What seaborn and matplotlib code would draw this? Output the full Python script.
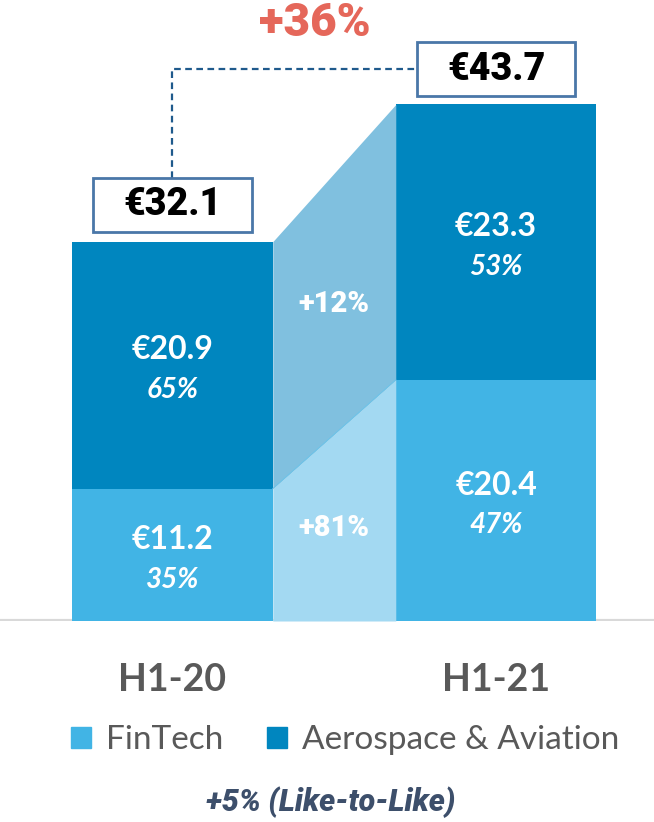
import numpy as np
import pandas as pd
import seaborn as sns
import matplotlib.pyplot as plt
from matplotlib.patches import Patch, Rectangle

sns.set_style('white')
plt.rcParams['font.family'] = ['Lato', 'DejaVu Sans']

# data
periods = ['H1-20', 'H1-21']
fintech = [11.2, 20.4]
aero = [20.9, 23.3]
totals = [32.1, 43.7]
fintech_share = ['35%', '47%']
aero_share = ['65%', '53%']
growth_labels = ['+81%', '+12%']   # fintech, aerospace
total_growth = '+36%'
footnote = '+5% (Like-to-Like)'

c_fin = '#41B4E5'
c_aero = '#0086BF'
c_fin_link = '#A3D9F2'
c_aero_link = '#80C0DF'
heavy = ['Roboto', 'DejaVu Sans']

df = pd.DataFrame({'period': periods, 'fintech': fintech, 'aero': aero, 'total': totals})

fig = plt.figure(figsize=(6.54, 8.22), dpi=100)
ax = fig.add_axes([0, 201 / 822, 1, 621 / 822])

bw = 0.62
# stacked bars: total first (aerospace colour), fintech on top of it
sns.barplot(data=df, x='period', y='total', color=c_aero, width=bw, saturation=1, ax=ax)
sns.barplot(data=df, x='period', y='fintech', color=c_fin, width=bw, saturation=1, ax=ax)
for p in ax.patches:
    p.set_edgecolor('none')

ax.set_xlim(-0.533, 1.488)
ax.set_ylim(0, 52.54)
for s in ax.spines.values():
    s.set_visible(False)
ax.set_yticks([])
ax.set_xlabel('')
ax.set_ylabel('')
ax.axhline(0, color='#D9D9D9', lw=3, zorder=0.5)

# connecting bands between the bars
xl = 0 + bw / 2
xr = 1 - bw / 2
ax.fill_between([xl, xr], [0, 0], fintech, color=c_fin_link, lw=0, zorder=1)
ax.fill_between([xl, xr], fintech, totals, color=c_aero_link, lw=0, zorder=1)
ax.plot([xl, xr], fintech, color='#6EC3E8', lw=0.8, zorder=1.1)

xm = (xl + xr) / 2
ax.text(xm, np.mean(fintech) / 2, growth_labels[0], color='white', fontsize=21,
        family=heavy, fontweight='black', ha='center', va='center')
ax.text(xm, (np.mean(fintech) + np.mean(totals)) / 2, growth_labels[1], color='white',
        fontsize=21, family=heavy, fontweight='black', ha='center', va='center')

# segment labels
for i in range(2):
    ym = fintech[i] / 2
    ax.text(i, ym + 1.3, '€%.1f' % fintech[i], color='white', fontsize=23,
            fontweight='bold', ha='center', va='center')
    ax.text(i, ym - 2.1, fintech_share[i], color='white', fontsize=20,
            fontweight='bold', style='italic', ha='center', va='center')
    ym = fintech[i] + aero[i] / 2
    ax.text(i, ym + 1.3, '€%.1f' % aero[i], color='white', fontsize=23,
            fontweight='bold', ha='center', va='center')
    ax.text(i, ym - 2.1, aero_share[i], color='white', fontsize=20,
            fontweight='bold', style='italic', ha='center', va='center')

# total boxes
offs = [3.1, 3.0]
box_w, box_h = 0.49, 4.5
for i in range(2):
    yc = totals[i] + offs[i]
    ax.add_patch(Rectangle((i - box_w / 2, yc - box_h / 2), box_w, box_h, fc='white',
                           ec='#4A77A8', lw=2, zorder=3))
    ax.text(i, yc, '€%.1f' % totals[i], color='black', fontsize=27, family=heavy,
            fontweight='black', ha='center', va='center', zorder=4)

# dashed connector
y_top = totals[1] + offs[1]
ax.plot([0, 0, 1 - box_w / 2], [totals[0] + offs[0] + box_h / 2, y_top, y_top],
        color='#1F5A8C', lw=1.6, ls=(0, (3, 2)), zorder=2)
ax.text(0.44, 50.6, total_growth, color='#E5675A', fontsize=33, family=heavy,
        fontweight='black', ha='center', va='center')

ax.tick_params(axis='x', length=0, pad=30)
ax.set_xticks([0, 1])
ax.set_xticklabels(periods, fontsize=27, fontweight='bold', color='#595959')

handles = [Patch(color=c_fin, label='FinTech'), Patch(color=c_aero, label='Aerospace & Aviation')]
fig.legend(handles=handles, loc='center', bbox_to_anchor=(0.528, 1 - 740 / 822), ncol=2,
           frameon=False, fontsize=24, handlelength=0.6, handleheight=0.6,
           handletextpad=0.45, columnspacing=1.3, labelcolor='#595959')

fig.text(0.506, 1 - 802 / 822, footnote, color='#3D4F6B', fontsize=22, family=heavy,
         fontweight='black', style='italic', ha='center', va='center')

fig.savefig('out.png', dpi=100)
